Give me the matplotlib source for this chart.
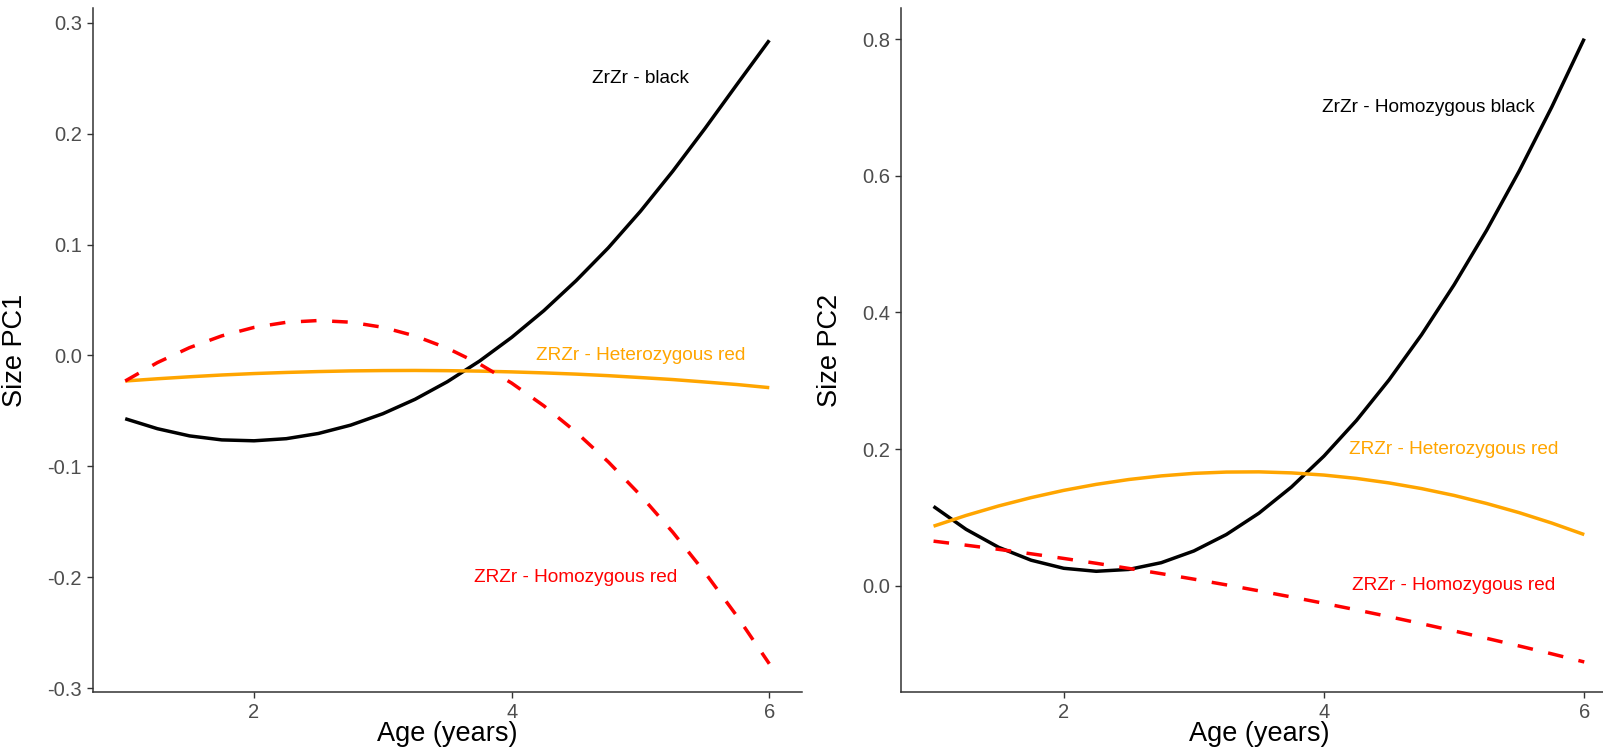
import numpy as np
import matplotlib
matplotlib.use("Agg")
import matplotlib.pyplot as plt

plt.rcParams['font.family'] = ['Liberation Sans', 'DejaVu Sans']
plt.rcParams['axes.unicode_minus'] = False

# ages (years)
age = [1.0, 1.25, 1.5, 1.75, 2.0, 2.25, 2.5, 2.75, 3.0, 3.25, 3.5,
       3.75, 4.0, 4.25, 4.5, 4.75, 5.0, 5.25, 5.5, 5.75, 6.0]

# Size PC1 (left panel)
pc1_black = [-0.057, -0.066, -0.0725, -0.0761, -0.0769, -0.075, -0.0703, -0.0628,
             -0.0525, -0.0395, -0.0237, -0.0051, 0.0163, 0.0404, 0.0674, 0.097,
             0.1300, 0.1660, 0.2045, 0.2445, 0.2841]
pc1_het = [-0.0230, -0.0210, -0.0192, -0.0176, -0.0163, -0.0153, -0.0145, -0.0139,
           -0.0136, -0.0135, -0.0137, -0.0141, -0.0148, -0.0157, -0.0168, -0.0182,
           -0.0199, -0.0217, -0.0239, -0.0262, -0.0290]
pc1_hom = [-0.023, -0.0064, 0.0071, 0.0177, 0.0253, 0.0299, 0.0315, 0.0300,
           0.0254, 0.0176, 0.0066, -0.0076, -0.0249, -0.0454, -0.0691, -0.0959,
           -0.1260, -0.1592, -0.1956, -0.2351, -0.2779]

# Size PC2 (right panel)
pc2_black = [0.116, 0.0825, 0.0562, 0.0373, 0.0255, 0.0211, 0.0238, 0.0337,
             0.0508, 0.0749, 0.1061, 0.1444, 0.1897, 0.2419, 0.3012, 0.3673,
             0.4404, 0.5202, 0.6068, 0.7004, 0.8006]
pc2_het = [0.0871, 0.1028, 0.1167, 0.1289, 0.1395, 0.1483, 0.1554, 0.1607,
           0.1644, 0.1663, 0.1666, 0.1651, 0.1619, 0.1570, 0.1504, 0.1421,
           0.1321, 0.1203, 0.1069, 0.0917, 0.0748]
pc2_hom = [0.0652, 0.0593, 0.0532, 0.0467, 0.0399, 0.0328, 0.0253, 0.0176,
           0.0096, 0.0012, -0.0075, -0.0165, -0.0258, -0.0354, -0.0453, -0.0556,
           -0.0662, -0.0770, -0.0882, -0.0997, -0.1116]

x_ticks = [2, 4, 6]
pc1_ticks = [-0.3, -0.2, -0.1, 0.0, 0.1, 0.2, 0.3]
pc1_ticklabels = ['-0.3', '-0.2', '-0.1', '0.0', '0.1', '0.2', '0.3']
pc2_ticks = [0.0, 0.2, 0.4, 0.6, 0.8]
pc2_ticklabels = ['0.0', '0.2', '0.4', '0.6', '0.8']

W, H = 1603, 754
fig = plt.figure(figsize=(W / 100, H / 100), dpi=100, facecolor='white')


def style(ax):
    for s in ['top', 'right']:
        ax.spines[s].set_visible(False)
    for s in ['left', 'bottom']:
        ax.spines[s].set_linewidth(1.1)
        ax.spines[s].set_color('#333333')
    ax.tick_params(length=4, width=1.0, color='#333333', labelcolor='#4D4D4D',
                   labelsize=14.5, pad=4)
    ax.set_xlim(0.75, 6.25)
    ax.set_xticks(x_ticks)


lw = 2.5
dash = (4.5, 4.5)
kw = dict(solid_capstyle='butt', solid_joinstyle='round')

ax1 = fig.add_axes([93 / W, 1 - 692.3 / H, (801.5 - 93) / W, (692.3 - 8) / H])
ax1.plot(age, pc1_black, color='black', lw=lw, **kw)
ax1.plot(age, pc1_het, color='orange', lw=lw, **kw)
ax1.plot(age, pc1_hom, color='red', lw=lw, dashes=dash, dash_joinstyle='round')
style(ax1)
ax1.set_ylim(-0.3036, 0.3132)
ax1.set_yticks(pc1_ticks)
ax1.set_yticklabels(pc1_ticklabels)
ax1.set_xlabel('Age (years)', fontsize=19.5)
ax1.set_ylabel('Size PC1', fontsize=19.5)
ax1.yaxis.set_label_coords(-0.0917, 0.5)
ax1.xaxis.set_label_coords(0.5, -0.042)
ax1.text(5.0, 0.25, 'ZrZr - black', color='black', fontsize=13.7, ha='center', va='center')
ax1.text(5.0, 0.0, 'ZRZr - Heterozygous red', color='orange', fontsize=13.7, ha='center', va='center')
ax1.text(4.5, -0.2, 'ZRZr - Homozygous red', color='red', fontsize=13.7, ha='center', va='center')

ax2 = fig.add_axes([901 / W, 1 - 692.3 / H, (1616.8 - 901) / W, (692.3 - 8.3) / H])
ax2.plot(age, pc2_black, color='black', lw=lw, **kw)
ax2.plot(age, pc2_het, color='orange', lw=lw, **kw)
ax2.plot(age, pc2_hom, color='red', lw=lw, dashes=dash, dash_joinstyle='round')
style(ax2)
ax2.set_ylim(-0.156, 0.845)
ax2.set_yticks(pc2_ticks)
ax2.set_yticklabels(pc2_ticklabels)
ax2.set_xlabel('Age (years)', fontsize=19.5)
ax2.set_ylabel('Size PC2', fontsize=19.5)
ax2.yaxis.set_label_coords(-0.0806, 0.5)
ax2.xaxis.set_label_coords(0.5, -0.042)
ax2.text(4.8, 0.70, 'ZrZr - Homozygous black', color='black', fontsize=13.7, ha='center', va='center')
ax2.text(5.0, 0.20, 'ZRZr - Heterozygous red', color='orange', fontsize=13.7, ha='center', va='center')
ax2.text(5.0, 0.0, 'ZRZr - Homozygous red', color='red', fontsize=13.7, ha='center', va='center')

fig.savefig('out.png', dpi=100, facecolor='white')
